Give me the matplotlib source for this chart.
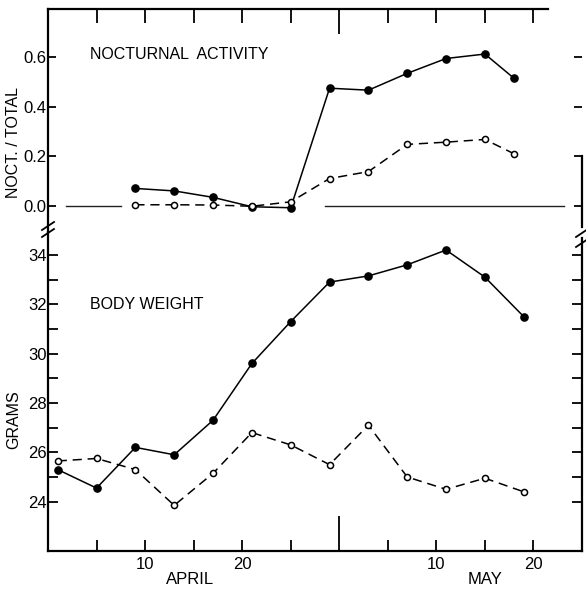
import matplotlib
matplotlib.use("Agg")
import matplotlib.pyplot as plt
from matplotlib.transforms import blended_transform_factory

plt.rcParams['font.family'] = ['Liberation Sans', 'DejaVu Sans']

# Days counted from 31 March (1 = 1 April, 31 = 1 May)
weight_days = [1, 5, 9, 13, 17, 21, 25, 29, 33, 37, 41, 45, 49]
weight_filled = [25.3, 24.55, 26.2, 25.9, 27.3, 29.6, 31.3, 32.9, 33.15, 33.6, 34.2, 33.1, 31.5]
weight_open = [25.65, 25.75, 25.3, 23.85, 25.15, 26.8, 26.3, 25.5, 27.1, 25.0, 24.5, 24.95, 24.4]

act_days = [9, 13, 17, 21, 25, 29, 33, 37, 41, 45, 48]
act_filled = [0.07, 0.06, 0.034, -0.004, -0.008, 0.475, 0.467, 0.535, 0.595, 0.613, 0.515]
act_open = [0.004, 0.004, 0.003, -0.002, 0.016, 0.11, 0.138, 0.248, 0.257, 0.268, 0.21]

act_ticks = [0.0, 0.2, 0.4, 0.6]
act_ticklabels = ["0.0", "0.2", "0.4", "0.6"]
gram_ticks = [24, 26, 28, 30, 32, 34]
gram_minor = [25, 27, 29, 31, 33]
gram_right = list(range(24, 35))

day_ticks = [5, 10, 15, 20, 25, 35, 40, 45, 50]
day_labels = ["", "10", "", "20", "", "", "10", "", "20"]
month_break = 30
months = ["APRIL", "MAY"]
month_pos = [14.6, 45.0]

W, H = 586, 592
fig = plt.figure(figsize=(W / 100, H / 100), dpi=100)

left, right = 48, 582
y_top, y_split, y_bot = 9, 232, 551
ax_top = fig.add_axes([left / W, 1 - y_split / H, (right - left) / W, (y_split - y_top) / H])
ax_bot = fig.add_axes([left / W, 1 - y_bot / H, (right - left) / W, (y_bot - y_split) / H])

lw_spine = 1.6
lw_line = 1.1
dash = (0, (6, 3.8))
ms_fill, ms_open = 5.2, 4.4
title_day = 4.3  # left edge of the panel titles, in days

for ax in (ax_top, ax_bot):
    ax.set_xlim(0, 55)
    ax.patch.set_alpha(0)
    for s in ax.spines.values():
        s.set_linewidth(lw_spine)

# ---- nocturnal activity panel ----
ax_top.set_ylim(-0.106, 0.795)
ax_top.spines['bottom'].set_visible(False)
ax_top.spines['right'].set_bounds(-0.085, 0.2)
ax_top.spines['top'].set_bounds(0, 51.5)

ax_top.plot([1.9, 7.5], [0, 0], color='#222222', lw=1.0)
ax_top.plot([28.5, 53.1], [0, 0], color='#222222', lw=1.0)
ax_top.plot(act_days, act_filled, color='black', lw=lw_line, marker='o',
            ms=ms_fill, mfc='black', mec='black')
ax_top.plot(act_days, act_open, color='black', lw=lw_line, ls=dash, marker='o',
            ms=ms_open, mfc='white', mec='black', mew=1.1)

ax_top.set_yticks(act_ticks, act_ticklabels)
ax_top.tick_params(axis='y', which='major', left=True, right=True, direction='in',
                   length=6, width=1.3, pad=1, labelsize=12)
ax_top.set_xticks(day_ticks)
ax_top.set_xticks([month_break], minor=True)
ax_top.tick_params(axis='x', which='both', bottom=False, top=True, labelbottom=False,
                   direction='in', width=1.3)
ax_top.tick_params(axis='x', which='major', length=10)
ax_top.tick_params(axis='x', which='minor', length=18)

ax_top.text(title_day, 0.61, "NOCTURNAL  ACTIVITY", fontsize=11.5,
            ha='left', va='center')

# ---- body weight panel ----
ax_bot.set_ylim(22, 34.93)
ax_bot.spines['top'].set_visible(False)
ax_bot.spines['right'].set_bounds(22, 34.7)

ax_bot.plot(weight_days, weight_filled, color='black', lw=lw_line, marker='o',
            ms=ms_fill, mfc='black', mec='black')
ax_bot.plot(weight_days, weight_open, color='black', lw=lw_line, ls=dash, marker='o',
            ms=ms_open, mfc='white', mec='black', mew=1.1)

ax_bot.set_yticks(gram_ticks, [str(v) for v in gram_ticks])
ax_bot.set_yticks(gram_minor, minor=True)
ax_bot.tick_params(axis='y', which='both', left=True, right=False, direction='in',
                   length=7, width=1.3, pad=1, labelsize=12)

ax_bot.set_xticks(day_ticks, day_labels)
ax_bot.set_xticks([month_break], minor=True)
ax_bot.tick_params(axis='x', which='both', direction='in', width=1.3, labelsize=12, pad=4)
ax_bot.tick_params(axis='x', which='major', length=8)
ax_bot.tick_params(axis='x', which='minor', length=25)

# right-hand gram ticks without labels
ax_r = ax_bot.twinx()
ax_r.set_ylim(ax_bot.get_ylim())
ax_r.set_yticks(gram_right)
ax_r.tick_params(axis='y', direction='in', length=7, width=1.3, labelright=False)
for s in ax_r.spines.values():
    s.set_visible(False)

ax_bot.text(title_day, 32.0, "BODY WEIGHT", fontsize=11.5,
            ha='left', va='center')

trans = blended_transform_factory(ax_bot.transData, fig.transFigure)
for name, pos in zip(months, month_pos):
    ax_bot.text(pos, 1 - 580 / H, name, transform=trans, ha='center', va='center',
                fontsize=12)

fig.text(14 / W, 1 - 142 / H, "NOCT. / TOTAL", rotation=90, ha='center', va='center',
         fontsize=11.5)
fig.text(14 / W, 1 - 420 / H, "GRAMS", rotation=90, ha='center', va='center',
         fontsize=11.5)

# axis break marks on both sides
for xpx, ys in ((left, (226, 233)), (right, (233, 243))):
    for ypx in ys:
        fig.add_artist(plt.Line2D([(xpx - 6) / W, (xpx + 6) / W],
                                  [1 - (ypx + 4) / H, 1 - (ypx - 4) / H],
                                  color='black', lw=1.3, transform=fig.transFigure))

fig.savefig("out.png", dpi=100)
